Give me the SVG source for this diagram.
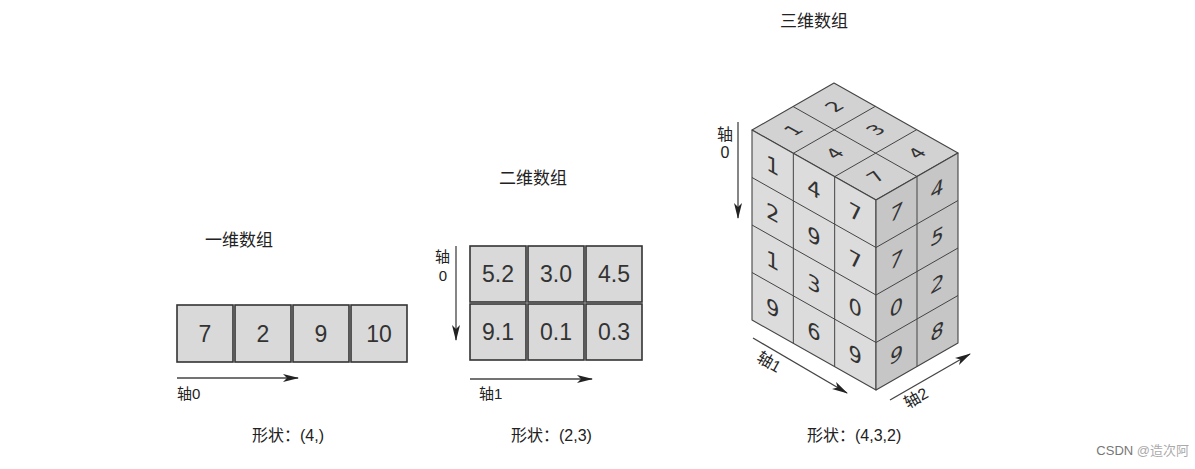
<svg xmlns="http://www.w3.org/2000/svg" width="1195" height="469" viewBox="0 0 1195 469">
<style>
.lbl{font-family:"Liberation Sans","Noto Sans CJK SC",sans-serif;fill:#222}
.t17{font-size:17px}
.t16{font-size:16px}
.ax{font-size:15px}
.box{fill:#d9d9d9;stroke:#333;stroke-width:1.6}
.num{font-family:"Liberation Sans",Arial,sans-serif;font-size:23px;fill:#333;text-anchor:middle}
.cd{font-family:"DejaVu Sans",sans-serif;font-size:21px;fill:#333;text-anchor:middle}
.face{stroke:#444;stroke-width:1.1;stroke-linejoin:round}
.grid{stroke:#444;stroke-width:1;fill:none}
.arr{stroke:#444;stroke-width:1.3;fill:none;marker-end:url(#ah)}
</style>
<defs>
<marker id="ah" markerUnits="userSpaceOnUse" markerWidth="16" markerHeight="10" viewBox="0 0 16 10" refX="15" refY="5" orient="auto">
<path d="M0,1 L16,5 L0,9 L4,5 z" fill="#222"/>
</marker>
</defs>
<rect width="1195" height="469" fill="#fff"/>

<g id="title-1d"><text class="lbl t17" x="205" y="246">一维数组</text></g>
<g id="node-1d-0"><rect class="box" x="177" y="305" width="56" height="57"/><text class="num" x="205" y="342">7</text></g>
<g id="node-1d-1"><rect class="box" x="235" y="305" width="56" height="57"/><text class="num" x="263" y="342">2</text></g>
<g id="node-1d-2"><rect class="box" x="293" y="305" width="56" height="57"/><text class="num" x="321" y="342">9</text></g>
<g id="node-1d-3"><rect class="box" x="351" y="305" width="56" height="57"/><text class="num" x="379" y="342">10</text></g>
<g id="label-1d-axis0"><text class="lbl ax" x="177" y="399">轴0</text></g>
<g id="shape-1d"><text class="lbl t16" x="252" y="441">形状：(4,)</text></g>

<g id="title-2d"><text class="lbl t17" x="499" y="184">二维数组</text></g>
<g id="node-2d-00"><rect class="box" x="470" y="246" width="56" height="56"/><text class="num" x="498" y="282">5.2</text></g>
<g id="node-2d-01"><rect class="box" x="528" y="246" width="56" height="56"/><text class="num" x="556" y="282">3.0</text></g>
<g id="node-2d-02"><rect class="box" x="586" y="246" width="56" height="56"/><text class="num" x="614" y="282">4.5</text></g>
<g id="node-2d-10"><rect class="box" x="470" y="304" width="56" height="56"/><text class="num" x="498" y="340">9.1</text></g>
<g id="node-2d-11"><rect class="box" x="528" y="304" width="56" height="56"/><text class="num" x="556" y="340">0.1</text></g>
<g id="node-2d-12"><rect class="box" x="586" y="304" width="56" height="56"/><text class="num" x="614" y="340">0.3</text></g>
<g id="label-2d-axis0"><text class="lbl ax" x="435" y="262">轴</text><text class="lbl ax" x="443" y="281" text-anchor="middle">0</text></g>
<g id="label-2d-axis1"><text class="lbl ax" x="479" y="399">轴1</text></g>
<g id="shape-2d"><text class="lbl t16" x="511" y="441">形状：(2,3)</text></g>

<g id="title-3d"><text class="lbl t17" x="780" y="27">三维数组</text></g>
<g id="cube-3d">
<g id="cube-top">
<polygon class="face" points="752,130 834,83 958,153 876,200" fill="#d2d2d2"/>
<path class="grid" d="M793.33,153.33 L875.33,106.33 M834.67,176.67 L916.67,129.67 M793,106.5 L917,176.5"/>
<g class="cd">
<text transform="matrix(0.8,-0.458,0.8,0.452,793.2,129.9)" dy="0.36em">1</text>
<text transform="matrix(0.8,-0.458,0.8,0.452,834.2,106.4)" dy="0.36em">2</text>
<text transform="matrix(0.8,-0.458,0.8,0.452,834.5,153.3)" dy="0.36em">4</text>
<text transform="matrix(0.8,-0.458,0.8,0.452,875.5,129.8)" dy="0.36em">3</text>
<text transform="matrix(0.8,-0.458,0.8,0.452,875.8,176.6)" dy="0.36em">7</text>
<text transform="matrix(0.8,-0.458,0.8,0.452,916.8,153.1)" dy="0.36em">4</text>
</g>
</g>
<g id="cube-front">
<polygon class="face" points="752,130 876,200 876,390 752,320" fill="#dcdcdc"/>
<path class="grid" d="M793.33,153.33 V343.33 M834.67,176.67 V366.67 M752,177.5 L876,247.5 M752,225 L876,295 M752,272.5 L876,342.5"/>
<g class="cd">
<text transform="matrix(1,0.5645,0,1,772.7,165.4)" dy="0.36em">1</text>
<text transform="matrix(1,0.5645,0,1,772.7,212.9)" dy="0.36em">2</text>
<text transform="matrix(1,0.5645,0,1,772.7,260.4)" dy="0.36em">1</text>
<text transform="matrix(1,0.5645,0,1,772.7,307.9)" dy="0.36em">9</text>
<text transform="matrix(1,0.5645,0,1,814,188.8)" dy="0.36em">4</text>
<text transform="matrix(1,0.5645,0,1,814,236.3)" dy="0.36em">9</text>
<text transform="matrix(1,0.5645,0,1,814,283.8)" dy="0.36em">3</text>
<text transform="matrix(1,0.5645,0,1,814,331.3)" dy="0.36em">6</text>
<text transform="matrix(1,0.5645,0,1,855.3,212.1)" dy="0.36em">7</text>
<text transform="matrix(1,0.5645,0,1,855.3,259.6)" dy="0.36em">7</text>
<text transform="matrix(1,0.5645,0,1,855.3,307.1)" dy="0.36em">0</text>
<text transform="matrix(1,0.5645,0,1,855.3,354.6)" dy="0.36em">9</text>
</g>
</g>
<g id="cube-right">
<polygon class="face" points="876,200 958,153 958,343 876,390" fill="#c6c6c6"/>
<path class="grid" d="M917,176.5 V366.5 M876,247.5 L958,200.5 M876,295 L958,248 M876,342.5 L958,295.5"/>
<g class="cd">
<text transform="matrix(1,-0.573,-0.16,1,896.5,212)" dy="0.36em">7</text>
<text transform="matrix(1,-0.573,-0.16,1,896.5,259.5)" dy="0.36em">7</text>
<text transform="matrix(1,-0.573,-0.16,1,896.5,307)" dy="0.36em">0</text>
<text transform="matrix(1,-0.573,-0.16,1,896.5,354.5)" dy="0.36em">9</text>
<text transform="matrix(1,-0.573,-0.16,1,937.5,188.5)" dy="0.36em">4</text>
<text transform="matrix(1,-0.573,-0.16,1,937.5,236)" dy="0.36em">5</text>
<text transform="matrix(1,-0.573,-0.16,1,937.5,283.5)" dy="0.36em">2</text>
<text transform="matrix(1,-0.573,-0.16,1,937.5,331)" dy="0.36em">8</text>
</g>
</g>
</g>
<g id="label-3d-axis0"><text class="lbl t16" x="717" y="140">轴</text><text class="lbl t16" x="725" y="158" text-anchor="middle">0</text></g>
<g id="label-3d-axis1"><text class="lbl t16" transform="translate(769,362) rotate(29.4)" text-anchor="middle" dy="0.35em">轴1</text></g>
<g id="label-3d-axis2"><text class="lbl t16" transform="translate(916,398) rotate(-29.8)" text-anchor="middle" dy="0.35em">轴2</text></g>
<g id="shape-3d"><text class="lbl t16" x="807" y="441">形状：(4,3,2)</text></g>

<g id="connectors">
<line class="arr" x1="177" y1="378" x2="298" y2="378"/>
<line class="arr" x1="456" y1="246" x2="456" y2="340"/>
<line class="arr" x1="470" y1="379" x2="592" y2="379"/>
<line class="arr" x1="738" y1="122" x2="738" y2="218"/>
<line class="arr" x1="753" y1="338" x2="847" y2="393"/>
<line class="arr" x1="890" y1="400" x2="970" y2="354"/>
</g>

<g id="watermark"><text x="1189" y="455" text-anchor="end" style="font-family:'Liberation Sans','Noto Sans CJK SC',sans-serif;font-size:13px"><tspan fill="#777">CSDN </tspan><tspan fill="#aaa">@造次阿</tspan></text></g>
</svg>
